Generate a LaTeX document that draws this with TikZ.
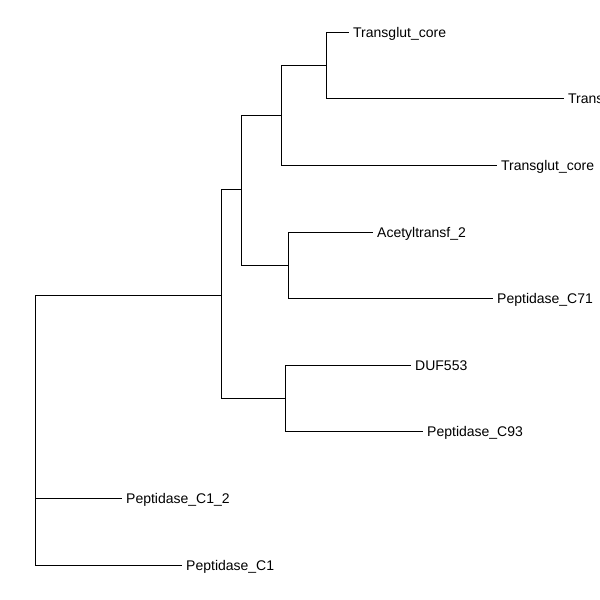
\documentclass[tikz,border=0pt]{standalone}
\usepackage{fontspec}
\setmainfont{Liberation Sans}
\begin{document}
\begin{tikzpicture}[x=1pt,y=-1pt,
  edge/.style={draw=black,line width=0.9pt},
  leaf/.style={anchor=west,inner xsep=4pt,inner ysep=0pt,text height=10.5pt,text depth=0pt,font=\fontsize{14}{16}\selectfont}]
\useasboundingbox (0,0) rectangle (600,600);
% internal nodes
\coordinate (r) at (35,295);
\coordinate (a) at (221,295);
\coordinate (b) at (241,189);
\coordinate (c) at (281,115);
\coordinate (d) at (326,65);
\coordinate (e) at (288,265);
\coordinate (f) at (285,398);
% leaves
\node[leaf] (t1) at (349,32) {Transglut\_core};
\node[leaf] (t2) at (564,98) {Transglut\_core};
\node[leaf] (t3) at (497,165) {Transglut\_core};
\node[leaf] (ac) at (373,232) {Acetyltransf\_2};
\node[leaf] (p71) at (493,298) {Peptidase\_C71};
\node[leaf] (duf) at (411,365) {DUF553};
\node[leaf] (p93) at (423,431) {Peptidase\_C93};
\node[leaf] (c12) at (122,498) {Peptidase\_C1\_2};
\node[leaf] (c1) at (182,565) {Peptidase\_C1};
% edges
\draw[edge] (r) -- (a);
\draw[edge] (r) |- (c12.west);
\draw[edge] (r) |- (c1.west);
\draw[edge] (a) |- (b);
\draw[edge] (a) |- (f);
\draw[edge] (b) |- (c);
\draw[edge] (b) |- (e);
\draw[edge] (c) |- (d);
\draw[edge] (c) |- (t3.west);
\draw[edge] (d) |- (t1.west);
\draw[edge] (d) |- (t2.west);
\draw[edge] (e) |- (ac.west);
\draw[edge] (e) |- (p71.west);
\draw[edge] (f) |- (duf.west);
\draw[edge] (f) |- (p93.west);
\end{tikzpicture}
\end{document}
